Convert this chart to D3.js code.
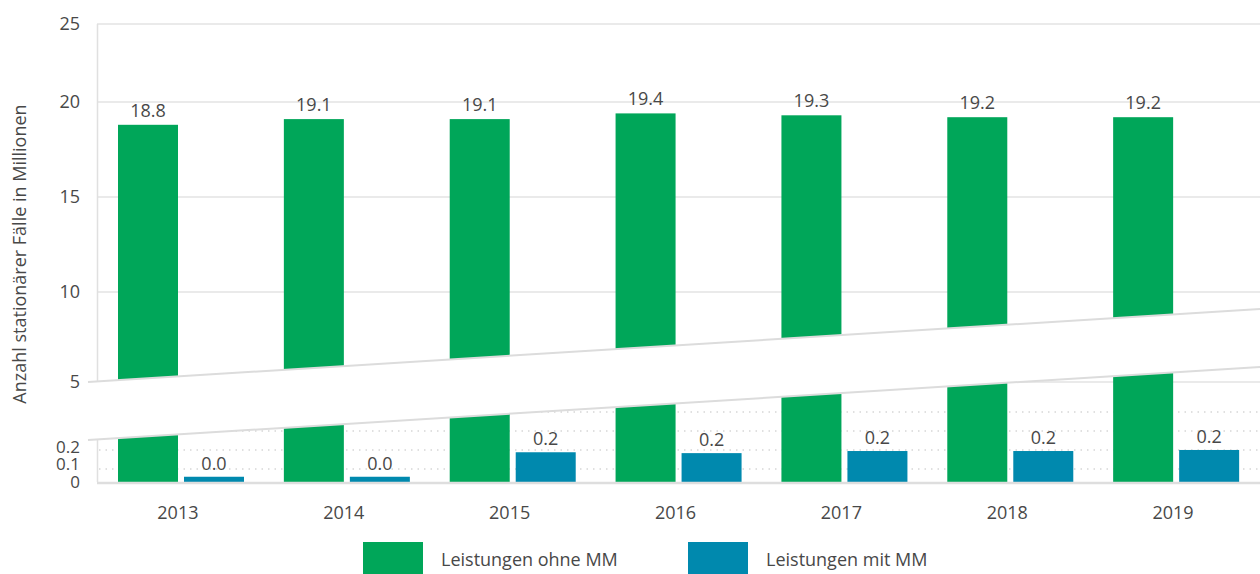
<!DOCTYPE html>
<html>
<head>
<meta charset="utf-8">
<script src="https://cdn.jsdelivr.net/npm/d3@7"></script>
<style>
  body { margin: 0; background: #fff; }
  text { font-family: "Open Sans", sans-serif; fill: #484848; font-size: 18px; }
</style>
</head>
<body>
<div id="chart"></div>
<script>
// Data
const years = ["2013", "2014", "2015", "2016", "2017", "2018", "2019"];
const series = ["Leistungen ohne MM", "Leistungen mit MM"];
const ohneMM = [18.8, 19.1, 19.1, 19.4, 19.3, 19.2, 19.2];
const mitMM = [0.03, 0.03, 0.17, 0.165, 0.177, 0.177, 0.183];
const upperTicks = [5, 10, 15, 20, 25];
const lowerTicks = [0, 0.1, 0.2];
const dottedGrid = [0.075, 0.183, 0.291, 0.4];
const colors = ["#00a659", "#0089ae"];

const width = 1260, height = 574;

const svg = d3.select("#chart")
  .append("svg")
  .attr("width", width)
  .attr("height", height);

// Scales (broken axis: upper part 5-25, lower part 0-0.2)
const yTop = d3.scaleLinear()
  .domain([5, 10, 15, 20, 25])
  .range([382, 292, 197, 102, 24]);

const yLow = d3.scaleLinear()
  .domain([0, 0.2])
  .range([482, 447]);

const x0 = d3.scaleBand()
  .domain(years)
  .range([97, 1258]);

const x1 = d3.scaleBand()
  .domain(series)
  .range([21, 147])
  .paddingInner(6 / 66);

// Gridlines upper part
svg.append("g")
  .selectAll("line")
  .data(upperTicks)
  .join("line")
  .attr("x1", 97)
  .attr("x2", width)
  .attr("y1", d => yTop(d))
  .attr("y2", d => yTop(d))
  .attr("stroke", "#e3e3e3")
  .attr("stroke-width", 1.5);

// Dotted lines lower part
svg.append("g")
  .selectAll("line")
  .data(dottedGrid)
  .join("line")
  .attr("x1", 99)
  .attr("x2", width)
  .attr("y1", d => yLow(d))
  .attr("y2", d => yLow(d))
  .attr("stroke", "#d6d6d6")
  .attr("stroke-width", 1.5)
  .attr("stroke-dasharray", "1.5,5");

// Vertical axis line
svg.append("line")
  .attr("x1", 97.5).attr("x2", 97.5)
  .attr("y1", yTop(25)).attr("y2", yLow(0))
  .attr("stroke", "#e0e0e0")
  .attr("stroke-width", 1.5);

// Bars
const groups = svg.append("g")
  .selectAll("g")
  .data(years)
  .join("g")
  .attr("transform", d => `translate(${x0(d)},0)`);

groups.append("rect")
  .attr("x", x1(series[0]))
  .attr("width", x1.bandwidth())
  .attr("y", (d, i) => yTop(ohneMM[i]))
  .attr("height", (d, i) => yLow(0) - yTop(ohneMM[i]))
  .attr("fill", colors[0]);

groups.append("rect")
  .attr("x", x1(series[1]))
  .attr("width", x1.bandwidth())
  .attr("y", (d, i) => yLow(mitMM[i]))
  .attr("height", (d, i) => yLow(0) - yLow(mitMM[i]))
  .attr("fill", colors[1]);

// Value labels
groups.append("text")
  .attr("x", x1(series[0]) + x1.bandwidth() / 2)
  .attr("y", (d, i) => yTop(ohneMM[i]) - 8)
  .attr("text-anchor", "middle")
  .text((d, i) => ohneMM[i].toFixed(1));

groups.append("text")
  .attr("x", x1(series[1]) + x1.bandwidth() / 2)
  .attr("y", (d, i) => yLow(mitMM[i]) - 7)
  .attr("text-anchor", "middle")
  .text((d, i) => mitMM[i].toFixed(1));

// Break band across the chart
const bx0 = 88, bx1 = width;
const topL = yTop(5), topR = topL - 73;
const gap = 58;
svg.append("polygon")
  .attr("points", [[bx0, topL], [bx1, topR], [bx1, topR + gap], [bx0, topL + gap]].join(" "))
  .attr("fill", "#fff");

svg.append("g")
  .selectAll("line")
  .data([0, gap])
  .join("line")
  .attr("x1", bx0)
  .attr("x2", bx1)
  .attr("y1", d => topL + d)
  .attr("y2", d => topR + d)
  .attr("stroke", "#dcdcdc")
  .attr("stroke-width", 2);

// Baseline
svg.append("line")
  .attr("x1", 97).attr("x2", width)
  .attr("y1", yLow(0) + 1).attr("y2", yLow(0) + 1)
  .attr("stroke", "#dedede")
  .attr("stroke-width", 2.5);

// Y tick labels
svg.append("g")
  .selectAll("text")
  .data(upperTicks)
  .join("text")
  .attr("x", 80)
  .attr("y", d => yTop(d))
  .attr("dy", "0.35em")
  .attr("text-anchor", "end")
  .text(d => d);

svg.append("g")
  .selectAll("text")
  .data(lowerTicks)
  .join("text")
  .attr("x", 80)
  .attr("y", d => yLow(d))
  .attr("dy", "0.35em")
  .attr("text-anchor", "end")
  .style("font-size", "17px")
  .text(d => d);

// X labels
svg.append("g")
  .selectAll("text")
  .data(years)
  .join("text")
  .attr("x", d => x0(d) + x0.bandwidth() / 2 - 2)
  .attr("y", 519)
  .attr("text-anchor", "middle")
  .text(d => d);

// Y axis title
svg.append("text")
  .attr("transform", "rotate(-90)")
  .attr("x", -254)
  .attr("y", 26)
  .attr("text-anchor", "middle")
  .text("Anzahl stationärer Fälle in Millionen");

// Legend
const legendX = [363, 688];
const legend = svg.append("g")
  .selectAll("g")
  .data(series)
  .join("g")
  .attr("transform", (d, i) => `translate(${legendX[i]},542)`);

legend.append("rect")
  .attr("width", 60)
  .attr("height", 32)
  .attr("fill", (d, i) => colors[i]);

legend.append("text")
  .attr("x", 78)
  .attr("y", 18)
  .attr("dy", "0.35em")
  .text(d => d);
</script>
</body>
</html>
